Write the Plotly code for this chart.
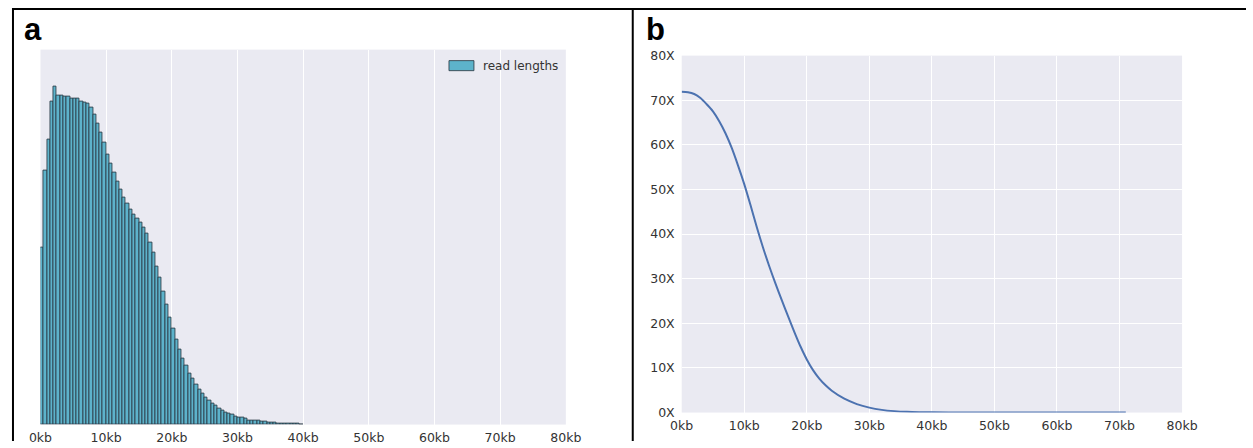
import plotly.graph_objects as go

# Figure size in CSS pixels and the placement of the figure on the captured
# page (offset and scale), used to convert screen positions into paper units.
W, H = 1262, 448
OX, OY = 10.5, 7.5
SX, SY = 0.979, 0.964

# ---- panel a: read-length histogram (500 bp bins from 0 to 40 kb) ----
bin_width_kb = 0.5
read_counts = [
    177, 253, 284, 322.3, 337.3, 328, 327.7, 327, 326.7, 324.7,
    324.7, 324.7, 322.3, 321.3, 320, 316, 309.3, 300.3, 291.3, 281.3,
    269.7, 260.7, 251.3, 242, 234, 226, 220, 214.7, 209.3, 205.3,
    201, 196, 190, 181.3, 171.3, 158, 146.3, 132.3, 119.7, 107,
    95.3, 84.7, 74.7, 66.3, 58.7, 51.3, 45.7, 40.3, 35, 30.7,
    27.3, 23.7, 21.3, 19, 16.3, 14, 12.3, 11, 9.7, 8.3,
    7, 6.5, 5.5, 4.3, 4, 3.8, 3.5, 3, 2.5, 2.3,
    2, 1.7, 1.3, 1, 1, 0.8, 0.7, 0.6, 0.5, 0.4,
]
bin_centers_kb = [bin_width_kb * (i + 0.5) for i in range(len(read_counts))]

# ---- panel b: depth of coverage vs minimum read length ----
min_length_kb = [0, 1, 2, 3, 4, 5, 6, 7, 8, 9, 10, 11, 12, 13, 14, 15, 16,
                 17, 18, 19, 20, 21, 22, 23, 24, 26, 28, 30, 32, 34, 36, 38,
                 40, 45, 50, 55, 60, 65, 71]
coverage_x = [71.9, 71.8, 71.4, 70.5, 69.1, 67.5, 65.3, 62.6, 59.3, 55.4,
              51.2, 46.5, 41.6, 37.0, 32.8, 28.9, 25.2, 21.6, 18.1, 14.8,
              11.9, 9.5, 7.6, 6.1, 4.9, 3.1, 1.9, 1.1, 0.6, 0.32, 0.16, 0.08,
              0.05, 0.02, 0.01, 0.0, 0.0, 0.0, 0.0]

kb_ticks = list(range(0, 81, 10))
kb_labels = [f"{t}kb" for t in kb_ticks]
cov_ticks = list(range(0, 81, 10))
cov_labels = [f"{t}X" for t in cov_ticks]

BG = "#EAEAF2"
BAR_FILL = "#5DB3CB"
BAR_EDGE = "rgba(45,60,70,0.85)"
TICK_FONT = dict(family="DejaVu Sans", size=12.5, color="#333333")

fig = go.Figure()

fig.add_trace(go.Bar(
    x=bin_centers_kb, y=read_counts, width=bin_width_kb,
    name="read lengths",
    marker=dict(color=BAR_FILL, line=dict(color=BAR_EDGE, width=1)),
    xaxis="x", yaxis="y", showlegend=False,
))

fig.add_trace(go.Scatter(
    x=min_length_kb, y=coverage_x, mode="lines",
    line=dict(color="#4C72B0", width=2, shape="spline", smoothing=0.8),
    xaxis="x2", yaxis="y2", showlegend=False,
))


def fx(px):
    return min(max((px - OX) / SX / W, 0.0), 1.0)


def fy(py):
    return min(max(1 - (py - OY) / SY / H, 0.0), 1.0)


common_x = dict(
    range=[0, 80], tickvals=kb_ticks, ticktext=kb_labels,
    showgrid=True, gridcolor="white", gridwidth=1.3,
    zeroline=False, showline=False, ticks="", tickfont=TICK_FONT,
    ticklabelstandoff=4,
)

frame = dict(color="black", width=2)

fig.update_layout(
    width=W, height=H,
    margin=dict(l=0, r=0, t=0, b=0),
    paper_bgcolor="white",
    plot_bgcolor=BG,
    bargap=0,
    showlegend=False,
    xaxis=dict(domain=[fx(39), fx(565)], anchor="y", **common_x),
    yaxis=dict(domain=[fy(423), fy(49)], range=[0, 374],
               showticklabels=False, showgrid=False, zeroline=False, ticks=""),
    xaxis2=dict(domain=[fx(681), fx(1182)], anchor="y2", **common_x),
    yaxis2=dict(domain=[fy(411), fy(55)], anchor="x2", range=[0, 80],
                tickvals=cov_ticks, ticktext=cov_labels,
                showgrid=True, gridcolor="white", gridwidth=1.3,
                zeroline=False, ticks="", tickfont=TICK_FONT,
                ticklabelstandoff=6),
    shapes=[
        # frame: top edge, left edge and divider between the panels
        dict(type="line", xref="paper", yref="paper", x0=0, x1=1,
             y0=1 - 1 / H, y1=1 - 1 / H, line=frame),
        dict(type="line", xref="paper", yref="paper", x0=1 / W, x1=1 / W,
             y0=1, y1=0, line=frame),
        dict(type="line", xref="paper", yref="paper", x0=fx(632), x1=fx(632),
             y0=1, y1=0, line=frame),
        # legend swatch for the histogram
        dict(type="rect", xref="paper", yref="paper",
             x0=fx(448), x1=fx(473), y0=fy(70), y1=fy(60),
             fillcolor=BAR_FILL, line=dict(color=BAR_EDGE, width=1)),
    ],
    annotations=[
        dict(text="read lengths", xref="paper", yref="paper", x=fx(480), y=fy(65),
             xanchor="left", yanchor="middle", showarrow=False,
             font=dict(family="DejaVu Sans", size=12, color="#333333")),
        dict(text="<b>a</b>", xref="paper", yref="paper", x=fx(21), y=fy(9.5),
             xanchor="left", yanchor="top", showarrow=False,
             font=dict(family="Liberation Sans", size=31, color="black")),
        dict(text="<b>b</b>", xref="paper", yref="paper", x=fx(643), y=fy(9.5),
             xanchor="left", yanchor="top", showarrow=False,
             font=dict(family="Liberation Sans", size=31, color="black")),
    ],
)

fig.write_html("out.html")
